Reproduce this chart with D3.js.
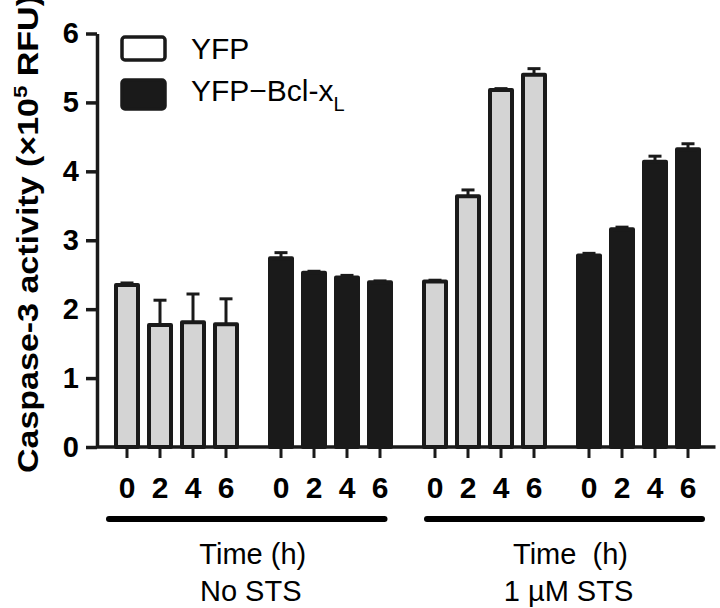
<!DOCTYPE html>
<html>
<head>
<meta charset="utf-8">
<script src="https://cdn.jsdelivr.net/npm/d3@7"></script>
<style>
  html, body { margin: 0; padding: 0; background: #fff; }
  svg { display: block; font-family: "Liberation Sans", Arial, sans-serif; }
</style>
</head>
<body>
<svg id="chart" width="720" height="608"></svg>
<script>
// ---- data ----
const times = ["0", "2", "4", "6"];
const conditions = ["No STS", "1 µM STS"];
const seriesNames = ["YFP", "YFP–Bcl-xL"];
const groups = ["YFP|No STS", "Bcl|No STS", "YFP|STS", "Bcl|STS"];
const yfpNoSTS = [2.35, 1.77, 1.81, 1.78];
const yfpNoSTSErr = [0.03, 0.36, 0.41, 0.37];
const bclNoSTS = [2.74, 2.53, 2.46, 2.39];
const bclNoSTSErr = [0.08, 0.02, 0.03, 0.02];
const yfpSTS = [2.40, 3.64, 5.18, 5.40];
const yfpSTSErr = [0.02, 0.09, 0.02, 0.09];
const bclSTS = [2.78, 3.16, 4.14, 4.32];
const bclSTSErr = [0.03, 0.03, 0.08, 0.08];
const yTicks = [0, 1, 2, 3, 4, 5, 6];

const groupValues = [yfpNoSTS, bclNoSTS, yfpSTS, bclSTS];
const groupErrors = [yfpNoSTSErr, bclNoSTSErr, yfpSTSErr, bclSTSErr];
const groupSeries = [0, 1, 0, 1];

const GRAY = "#d4d4d4", BLACK = "#1a1a1a";

const svg = d3.select("#chart");

// ---- scales ----
const y = d3.scaleLinear().domain([0, 6]).range([447, 33.5]);
const xOuter = d3.scaleBand().domain(groups).range([99.5, 715.5])
  .paddingInner(22 / 154).paddingOuter(11 / 154);
const xInner = d3.scaleBand().domain(times).range([0, xOuter.bandwidth()])
  .paddingInner(1 / 3).paddingOuter(1 / 6);

const bars = [];
groups.forEach((g, gi) => {
  times.forEach((t, ti) => {
    bars.push({ g, gi, t, v: groupValues[gi][ti], e: groupErrors[gi][ti], s: groupSeries[gi] });
  });
});
const cx = d => xOuter(d.g) + xInner(d.t) + xInner.bandwidth() / 2;

// ---- y axis ----
const yAxis = d3.axisLeft(y).tickValues(yTicks).tickFormat(d3.format("d"))
  .tickSizeInner(11).tickSizeOuter(0).tickPadding(7);
const yg = svg.append("g").attr("transform", "translate(97,0)").call(yAxis);
yg.select(".domain").attr("stroke", BLACK).attr("stroke-width", 3.5);
yg.selectAll(".tick line").attr("stroke", BLACK).attr("stroke-width", 3.5);
yg.selectAll(".tick text").attr("fill", "#000").attr("font-size", 29)
  .attr("font-weight", "bold").attr("font-family", "Liberation Sans, Arial, sans-serif");

// y title
svg.append("text")
  .attr("transform", "translate(38,234) rotate(-90)")
  .attr("text-anchor", "middle")
  .attr("font-size", 29).attr("font-weight", "bold").attr("fill", "#000")
  .attr("textLength", 478).attr("lengthAdjust", "spacingAndGlyphs")
  .call(t => {
    t.append("tspan").text("Caspase-3  activity  (×10");
    t.append("tspan").attr("dy", -11).attr("font-size", 19).text("5");
    t.append("tspan").attr("dy", 11).text(" RFU)");
  });

// ---- x axis baseline ----
svg.append("line")
  .attr("x1", 97).attr("x2", xOuter.range()[1])
  .attr("y1", y(0)).attr("y2", y(0))
  .attr("stroke", BLACK).attr("stroke-width", 3.5);

// ---- error bars ----
const eg = svg.append("g");
eg.selectAll("line.stem").data(bars).join("line")
  .attr("x1", cx).attr("x2", cx)
  .attr("y1", d => y(d.v)).attr("y2", d => y(d.v + d.e))
  .attr("stroke", BLACK).attr("stroke-width", 3);
eg.selectAll("line.cap").data(bars).join("line")
  .attr("x1", d => cx(d) - 6.5).attr("x2", d => cx(d) + 6.5)
  .attr("y1", d => y(d.v + d.e)).attr("y2", d => y(d.v + d.e))
  .attr("stroke", BLACK).attr("stroke-width", 3);

// ---- bars ----
svg.append("g").selectAll("rect").data(bars).join("rect")
  .attr("x", d => cx(d) - xInner.bandwidth() / 2)
  .attr("width", xInner.bandwidth())
  .attr("y", d => y(d.v))
  .attr("height", d => y(0) - y(d.v))
  .attr("fill", d => d.s === 0 ? GRAY : BLACK)
  .attr("stroke", BLACK).attr("stroke-width", 4)
  .attr("stroke-linejoin", "round");

// ---- x ticks and labels ----
svg.append("g").selectAll("line").data(bars).join("line")
  .attr("x1", cx).attr("x2", cx)
  .attr("y1", y(0)).attr("y2", y(0) + 11)
  .attr("stroke", BLACK).attr("stroke-width", 3);
svg.append("g").selectAll("text").data(bars).join("text")
  .attr("x", cx).attr("y", 498)
  .attr("text-anchor", "middle")
  .attr("font-size", 30).attr("font-weight", "bold").attr("fill", "#000")
  .text(d => d.t);

// ---- condition brackets ----
const condSpans = [
  { x1: xOuter(groups[0]) - 1.5, x2: xOuter(groups[1]) + xOuter.bandwidth() - 12, c: 0 },
  { x1: xOuter(groups[2]) + 8.5, x2: xOuter(groups[3]) + xOuter.bandwidth() - 2.5, c: 1 }
];
svg.append("g").selectAll("line").data(condSpans).join("line")
  .attr("x1", d => d.x1).attr("x2", d => d.x2)
  .attr("y1", 519).attr("y2", 519)
  .attr("stroke", "#000").attr("stroke-width", 6).attr("stroke-linecap", "round");
const labG = svg.append("g").selectAll("g").data(condSpans).join("g");
labG.append("text")
  .attr("x", d => (d.x1 + d.x2) / 2 + 6).attr("y", 564)
  .attr("text-anchor", "middle").attr("font-size", 29).attr("fill", "#000")
  .attr("xml:space", "preserve")
  .text((d, i) => i === 0 ? "Time (h)" : "Time  (h)");
labG.append("text")
  .attr("x", d => (d.x1 + d.x2) / 2 + 4).attr("y", 601)
  .attr("text-anchor", "middle").attr("font-size", 29).attr("fill", "#000")
  .text(d => conditions[d.c]);

// ---- legend ----
const legend = svg.append("g");
const legendItems = [
  { name: seriesNames[0], fill: "#fff", y: 37, h: 23, ty: 59 },
  { name: seriesNames[1], fill: BLACK, y: 80, h: 29, ty: 101 }
];
legend.selectAll("rect").data(legendItems).join("rect")
  .attr("x", 122).attr("y", d => d.y).attr("width", 43).attr("height", d => d.h)
  .attr("rx", 3).attr("fill", d => d.fill)
  .attr("stroke", BLACK).attr("stroke-width", 3.5);
legend.selectAll("text").data(legendItems).join("text")
  .attr("x", 191).attr("y", d => d.ty)
  .attr("font-size", 30).attr("fill", "#000")
  .each(function (d, i) {
    const t = d3.select(this);
    if (i === 0) { t.text(d.name); }
    else {
      t.append("tspan").text("YFP−Bcl-x");
      t.append("tspan").attr("dy", 10).attr("font-size", 20).text("L");
    }
  });
</script>
</body>
</html>
